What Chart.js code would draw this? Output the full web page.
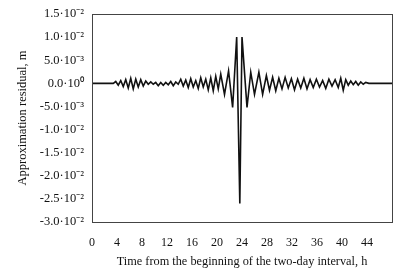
<!DOCTYPE html>
<html>
<head>
<meta charset="utf-8">
<script src="https://cdn.jsdelivr.net/npm/chart.js@4"></script>
<style>
  body { margin: 0; background: #fff; }
  canvas { display: block; }
</style>
</head>
<body>
<canvas id="chart" width="410" height="273"></canvas>
<script>
// hours from the beginning of the two-day interval
const hours = [
  0, 3.4, 3.8, 4.2, 4.6, 5.0, 5.4, 5.8, 6.2, 6.6, 7.0, 7.4, 7.8, 8.2, 8.6, 9.0,
  9.4, 9.8, 10.2, 10.6, 11.0, 11.4, 11.8, 12.2, 12.6, 13.0, 13.4, 13.8, 14.2,
  14.6, 15.0, 15.4, 15.8, 16.2, 16.6, 17.0, 17.4, 17.8, 18.2, 18.6, 19.0, 19.4,
  19.8, 20.2, 20.6, 21.2, 21.85, 22.5, 23.15, 23.65, 24.0, 24.8, 25.4, 26.0,
  26.7, 27.3, 27.9, 28.4, 28.9, 29.4, 29.9, 30.4, 30.9, 31.4, 31.9, 32.4, 32.9,
  33.4, 33.9, 34.4, 34.9, 35.4, 35.9, 36.4, 36.9, 37.4, 37.9, 38.4, 38.9, 39.4,
  39.8, 40.2, 40.6, 41.0, 41.4, 41.8, 42.2, 42.6, 43.0, 43.4, 43.8, 44.3, 48
];
// approximation residual, m
const residual = [
  0, 0, 0.0004, -0.0004, 0.0006, -0.0007, 0.0008, -0.0010, 0.0011, -0.0012,
  0.0009, -0.0008, 0.0008, -0.0006, 0.0005, -0.0002, 0.0003, -0.0002, 0.0002,
  -0.0005, 0.0002, -0.0004, 0.0002, -0.0003, 0.0004, -0.0005, 0.0003, -0.0002,
  0.0009, -0.0006, 0.0007, -0.0009, 0.0010, -0.0008, 0.0006, -0.0011, 0.0012,
  -0.0008, 0.0009, -0.0014, 0.0012, -0.0016, 0.0015, -0.0012, 0.0020, -0.0024,
  0.0027, -0.0052, 0.0100, -0.0260, 0.0100, -0.0052, 0.0024, -0.0024, 0.0024,
  -0.0024, 0.0017, -0.0015, 0.0013, -0.0016, 0.0011, -0.0012, 0.0013, -0.0010,
  0.0010, -0.0014, 0.0009, -0.0010, 0.0011, -0.0012, 0.0008, -0.0009, 0.0009,
  -0.0008, 0.0006, -0.0011, 0.0009, -0.0006, 0.0008, -0.0009, 0.0011, -0.0015,
  0.0008, -0.0004, 0.0005, -0.0003, 0.0004, -0.0004, 0.0003, -0.0002, 0.0002,
  0, 0
];
const xTicks = [0, 4, 8, 12, 16, 20, 24, 28, 32, 36, 40, 44];
const yTickValues = [0.015, 0.01, 0.005, 0, -0.005, -0.01, -0.015, -0.02, -0.025, -0.03];
const yTickLabels = [
  '1.5·10⁻²', '1.0·10⁻²', '5.0·10⁻³', '0.0·10⁰', '-5.0·10⁻³',
  '-1.0·10⁻²', '-1.5·10⁻²', '-2.0·10⁻²', '-2.5·10⁻²', '-3.0·10⁻²'
];

const points = hours.map((h, i) => ({ x: h, y: residual[i] }));
const serif = 'Liberation Serif, Times New Roman, serif';

// box round the plot area
const frame = {
  id: 'frame',
  afterDraw(chart) {
    const a = chart.chartArea;
    const ctx = chart.ctx;
    ctx.save();
    ctx.strokeStyle = '#444';
    ctx.lineWidth = 1;
    ctx.strokeRect(a.left + 0.5, a.top + 0.5, a.right - a.left, a.bottom - a.top);
    ctx.restore();
  }
};

new Chart(document.getElementById('chart'), {
  type: 'line',
  data: {
    datasets: [{
      data: points,
      borderColor: '#111',
      borderWidth: 1.6,
      pointRadius: 0,
      tension: 0,
      fill: false
    }]
  },
  options: {
    responsive: false,
    animation: false,
    layout: { padding: { left: 11, right: 18, top: 14, bottom: 0 } },
    plugins: { legend: { display: false }, tooltip: { enabled: false } },
    scales: {
      x: {
        type: 'linear',
        min: 0,
        max: 48,
        afterBuildTicks: s => { s.ticks = xTicks.concat([48]).map(v => ({ value: v })); },
        afterFit: s => { s.height = 51; },
        grid: { display: false, drawOnChartArea: false, drawTicks: true, tickLength: 5, tickColor: '#444' },
        border: { color: '#444' },
        ticks: {
          autoSkip: false,
          maxRotation: 0,
          color: '#111',
          font: { family: serif, size: 12 },
          padding: 9,
          callback: v => (v === 48 ? '' : String(v))
        },
        title: {
          display: true,
          text: 'Time from the beginning of the two-day interval, h',
          color: '#111',
          font: { family: serif, size: 12.3 },
          padding: { top: 2 }
        }
      },
      y: {
        min: -0.03,
        max: 0.015,
        afterBuildTicks: s => { s.ticks = yTickValues.map(v => ({ value: v })); },
        afterFit: s => { s.width = 81; },
        grid: { display: false, drawOnChartArea: false, drawTicks: true, tickLength: 5, tickColor: '#444' },
        border: { color: '#444' },
        ticks: {
          color: '#111',
          font: { family: serif, size: 12.5 },
          padding: 3,
          callback: v => {
            const i = yTickValues.findIndex(t => Math.abs(t - v) < 1e-9);
            return i >= 0 ? yTickLabels[i] : '';
          }
        },
        title: {
          display: true,
          text: 'Approximation residual, m',
          color: '#111',
          font: { family: serif, size: 12.5 },
          padding: { bottom: 2 }
        }
      }
    }
  },
  plugins: [frame]
});
</script>
</body>
</html>
